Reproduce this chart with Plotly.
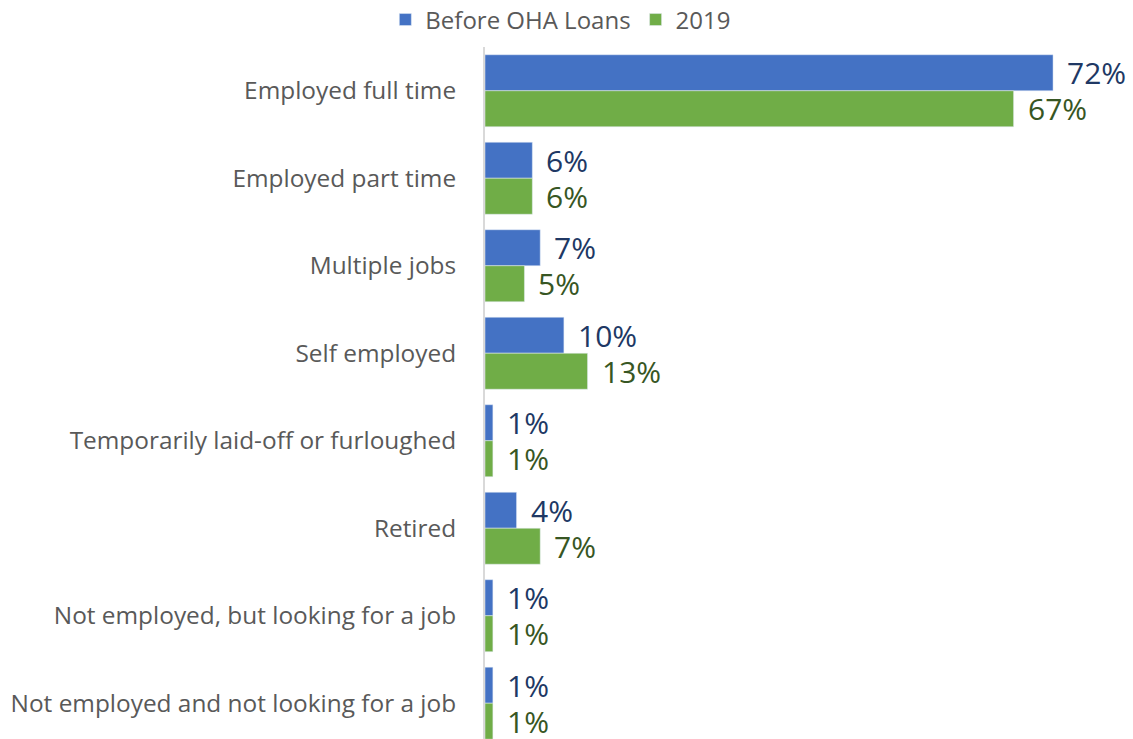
import plotly.graph_objects as go

# Employment status of borrowers, before the loans and in 2019 (percent)
categories = [
    "Employed full time",
    "Employed part time",
    "Multiple jobs",
    "Self employed",
    "Temporarily laid-off or furloughed",
    "Retired",
    "Not employed, but looking for a job",
    "Not employed and not looking for a job",
]
before_values = [72, 6, 7, 10, 1, 4, 1, 1]
values_2019 = [67, 6, 5, 13, 1, 7, 1, 1]
series_names = ["Before OHA Loans", "2019"]

BLUE = "#4472C4"
GREEN = "#70AD47"
BLUE_TEXT = "#203864"
GREEN_TEXT = "#375623"
GRAY_TEXT = "#595959"
FONT = "Open Sans, sans-serif"

fig = go.Figure()
fig.add_trace(go.Bar(y=categories, x=before_values, name=series_names[0],
                     orientation="h", marker_color=BLUE))
fig.add_trace(go.Bar(y=categories, x=values_2019, name=series_names[1],
                     orientation="h", marker_color=GREEN))

# value labels just past the end of each bar
annotations = []
for cat, v in zip(categories, before_values):
    annotations.append(dict(x=v, y=cat, xref="x", yref="y", text=f"{v}%",
                            showarrow=False, xanchor="left", yanchor="middle",
                            xshift=12, yshift=18,
                            font=dict(size=30, color=BLUE_TEXT, family=FONT)))
for cat, v in zip(categories, values_2019):
    annotations.append(dict(x=v, y=cat, xref="x", yref="y", text=f"{v}%",
                            showarrow=False, xanchor="left", yanchor="middle",
                            xshift=12, yshift=-18,
                            font=dict(size=30, color=GREEN_TEXT, family=FONT)))

fig.update_layout(
    width=1133, height=739,
    margin=dict(l=485, r=5, t=47, b=0),
    paper_bgcolor="white", plot_bgcolor="white",
    barmode="group", bargap=0.177, bargroupgap=0,
    font=dict(family=FONT, color=GRAY_TEXT),
    annotations=annotations,
    legend=dict(orientation="h", xref="container", yref="container",
                x=0.495, y=0.973, xanchor="center", yanchor="middle",
                font=dict(size=24, color=GRAY_TEXT, family=FONT),
                itemwidth=30, traceorder="normal"),
    xaxis=dict(range=[0, 81.5], visible=False, showgrid=False, zeroline=False),
    yaxis=dict(range=[7.409, -0.5], showline=True, linecolor="#D9D9D9",
               linewidth=2, showgrid=False, zeroline=False, ticks="",
               ticklabelstandoff=22,
               tickfont=dict(size=24.4, color=GRAY_TEXT, family=FONT)),
)

fig.write_html("out.html")
